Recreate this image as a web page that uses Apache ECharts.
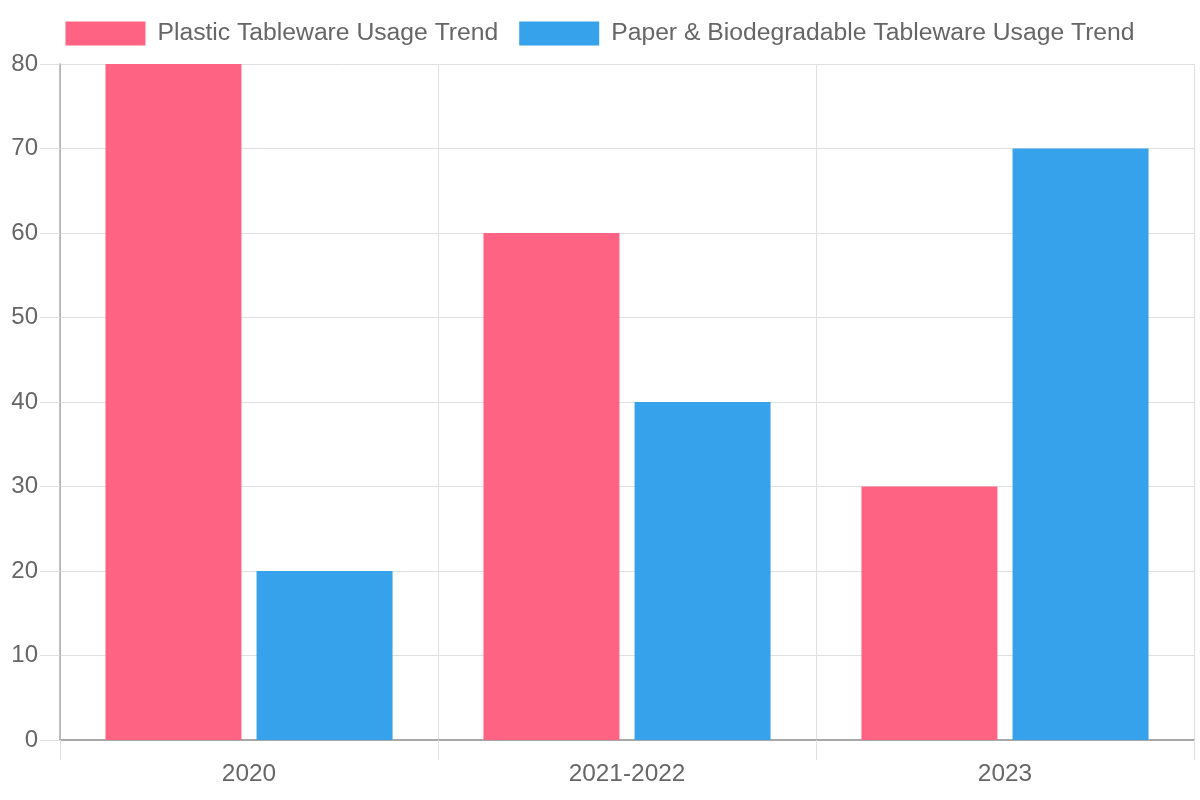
<!DOCTYPE html>
<html>
<head>
<meta charset="utf-8">
<script src="https://cdn.jsdelivr.net/npm/echarts@6/dist/echarts.min.js"></script>
<style>html,body{margin:0;padding:0;background:#fff}#c{width:1200px;height:800px}</style>
</head>
<body>
<div id="c"></div>
<script>
const categories = ['2020', '2021-2022', '2023'];
const plasticUsage = [80, 60, 30];
const paperUsage = [20, 40, 70];
const seriesNames = ['Plastic Tableware Usage Trend', 'Paper & Biodegradable Tableware Usage Trend'];

const chart = echarts.init(document.getElementById('c'));
const font = 'Liberation Sans, Arial, Helvetica, sans-serif';
chart.setOption({
  animation: false,
  textStyle: { fontFamily: font },
  legend: {
    top: 16, left: 'center',
    itemWidth: 80, itemHeight: 24, itemGap: 21,
    icon: 'rect',
    textStyle: { fontSize: 24.7, color: '#666', fontFamily: font, padding: [0, 0, 0, 7] },
    data: seriesNames
  },
  grid: { left: 60, right: 6, top: 64, bottom: 60, containLabel: false },
  xAxis: {
    type: 'category', data: categories,
    axisLine: { show: true, lineStyle: { color: '#a8a8a8', width: 2 } },
    axisTick: { show: true, length: 20, lineStyle: { color: '#e0e0e0' } },
    axisLabel: { fontSize: 24.4, color: '#666', margin: 22, fontFamily: font },
    splitLine: { show: true, lineStyle: { color: '#e0e0e0' } }
  },
  yAxis: {
    type: 'value', min: 0, max: 80, interval: 10,
    axisLine: { show: true, lineStyle: { color: '#aaaaaa', width: 1.5 } },
    axisTick: { show: true, length: 20, lineStyle: { color: '#e0e0e0' } },
    axisLabel: { fontSize: 24, color: '#666', margin: 22, fontFamily: font },
    splitLine: { show: true, lineStyle: { color: '#e0e0e0' } }
  },
  series: [
    { name: seriesNames[0], type: 'bar', data: plasticUsage, barWidth: 136, barGap: '11.1%',
      itemStyle: { color: '#ff6384' } },
    { name: seriesNames[1], type: 'bar', data: paperUsage, barWidth: 136,
      itemStyle: { color: '#36a2eb' } }
  ]
});
</script>
</body>
</html>
